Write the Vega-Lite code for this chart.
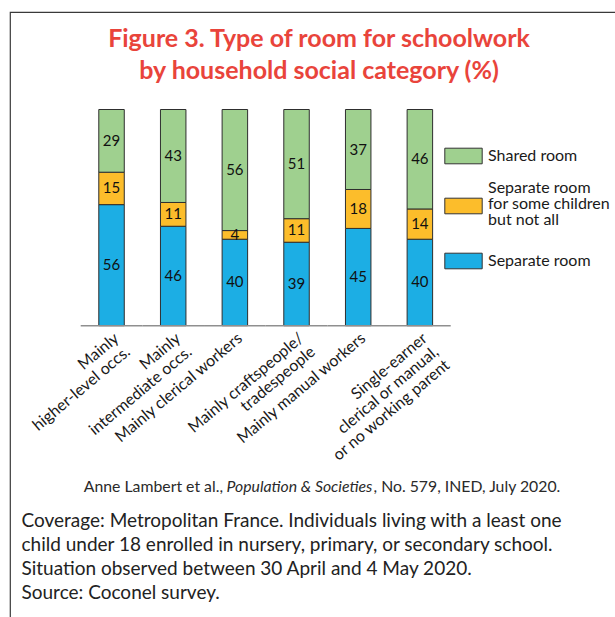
{
  "$schema": "https://vega.github.io/schema/vega-lite/v6.json",
  "width": 611,
  "height": 611,
  "autosize": "none",
  "padding": {"left": 10, "top": 12, "right": -6, "bottom": -6},
  "background": "white",
  "config": {"view": {"stroke": "#3a3a3a", "strokeWidth": 1.2}, "font": "Lato"},
  "title": {
    "text": ["Figure 3. Type of room for schoolwork", "by household social category (%)"],
    "font": "Lato", "fontSize": 25, "fontWeight": "bold", "color": "#e9443b",
    "lineHeight": 32, "anchor": "middle", "frame": "group", "offset": -71.5, "dx": 3.5
  },
  "resolve": {"axis": {"x": "independent"}},
  "data": {"values": [
    {"cat": "Mainly higher-level occs.", "room": "Separate room", "ord": 1, "pct": 56},
    {"cat": "Mainly higher-level occs.", "room": "Separate room for some children but not all", "ord": 2, "pct": 15},
    {"cat": "Mainly higher-level occs.", "room": "Shared room", "ord": 3, "pct": 29},
    {"cat": "Mainly intermediate occs.", "room": "Separate room", "ord": 1, "pct": 46},
    {"cat": "Mainly intermediate occs.", "room": "Separate room for some children but not all", "ord": 2, "pct": 11},
    {"cat": "Mainly intermediate occs.", "room": "Shared room", "ord": 3, "pct": 43},
    {"cat": "Mainly clerical workers", "room": "Separate room", "ord": 1, "pct": 40},
    {"cat": "Mainly clerical workers", "room": "Separate room for some children but not all", "ord": 2, "pct": 4},
    {"cat": "Mainly clerical workers", "room": "Shared room", "ord": 3, "pct": 56},
    {"cat": "Mainly craftspeople/tradespeople", "room": "Separate room", "ord": 1, "pct": 39},
    {"cat": "Mainly craftspeople/tradespeople", "room": "Separate room for some children but not all", "ord": 2, "pct": 11},
    {"cat": "Mainly craftspeople/tradespeople", "room": "Shared room", "ord": 3, "pct": 51},
    {"cat": "Mainly manual workers", "room": "Separate room", "ord": 1, "pct": 45},
    {"cat": "Mainly manual workers", "room": "Separate room for some children but not all", "ord": 2, "pct": 18},
    {"cat": "Mainly manual workers", "room": "Shared room", "ord": 3, "pct": 37},
    {"cat": "Single-earner clerical or manual, or no working parent", "room": "Separate room", "ord": 1, "pct": 40},
    {"cat": "Single-earner clerical or manual, or no working parent", "room": "Separate room for some children but not all", "ord": 2, "pct": 14},
    {"cat": "Single-earner clerical or manual, or no working parent", "room": "Shared room", "ord": 3, "pct": 46}
  ]},
  "layer": [
    {
      "mark": {"type": "bar", "stroke": "#2e2e2e", "strokeWidth": 1},
      "encoding": {
        "x": {
          "field": "cat", "type": "nominal", "sort": null,
          "scale": {"range": [70.7, 440.7], "paddingInner": 0.5867, "paddingOuter": 0.29335},
          "axis": {
            "orient": "bottom", "offset": -297.3, "domain": false, "ticks": false,
            "labelAngle": -40, "labelFont": "Lato", "labelFontSize": 16, "labelColor": "#1a1a1a",
            "labelPadding": 4, "labelLineHeight": 17.5, "labelLimit": 300,
            "labelExpr": "{'Mainly higher-level occs.': ['Mainly', 'higher-level occs.'], 'Mainly intermediate occs.': ['Mainly', 'intermediate occs.'], 'Mainly craftspeople/tradespeople': ['Mainly craftspeople/', 'tradespeople'], 'Single-earner clerical or manual, or no working parent': ['Single-earner', 'clerical or manual,', 'or no working parent']}[datum.label] || datum.label",
            "title": "Anne Lambert et al.,",
            "titleFont": "Lato", "titleFontSize": 15.8, "titleFontWeight": "normal", "titleColor": "#2a2a2a",
            "titleX": 212.5, "titleY": 166, "titleAlign": "right", "titleBaseline": "alphabetic"
          }
        },
        "y": {
          "field": "pct", "type": "quantitative", "stack": "normalize",
          "scale": {"domain": [-1.3751, 1.451], "nice": false, "zero": false},
          "axis": {
            "domain": false, "labels": false, "ticks": false, "grid": false,
            "title": ["Coverage: Metropolitan France. Individuals living with a least one", "child under 18 enrolled in nursery, primary, or secondary school.", "Situation observed between 30 April and 4 May 2020.", "Source: Coconel survey."],
            "titleAngle": 0, "titleAlign": "left", "titleBaseline": "alphabetic",
            "titleX": 11, "titleY": 514.7, "titleFont": "Lato", "titleFontSize": 19,
            "titleFontWeight": "normal", "titleColor": "#222222", "titleLineHeight": 23.8
          }
        },
        "order": {"field": "ord", "type": "quantitative"},
        "color": {
          "field": "room", "type": "nominal",
          "scale": {"domain": ["Shared room", "Separate room for some children but not all", "Separate room"], "range": ["#9fd08f", "#fcbd2b", "#1caee4"]},
          "legend": {
            "title": null, "orient": "none", "legendX": 434, "legendY": 124.5,
            "symbolType": "M-1,-0.417H1V0.417H-1Z", "symbolSize": 1399,
            "symbolStrokeColor": "#333333", "symbolStrokeWidth": 1, "symbolOpacity": 1,
            "labelFont": "Lato", "labelFontSize": 16, "labelColor": "#1a1a1a", "labelOffset": 5,
            "labelLimit": 300, "rowPadding": 13,
            "labelExpr": "datum.label == 'Separate room for some children but not all' ? ['Separate room', 'for some children', 'but not all'] : datum.label",
            "encode": {"labels": {"update": {"lineHeight": {"value": 16}, "dy": {"signal": "datum.label == 'Separate room for some children but not all' ? -18 : 0"}}}}
          }
        }
      }
    },
    {
      "mark": {"type": "text", "font": "Lato", "fontSize": 15, "color": "#111111"},
      "encoding": {
        "x": {
          "field": "cat", "type": "nominal", "sort": null,
          "axis": {
            "orient": "bottom", "offset": -297.3, "domain": false, "ticks": false, "labels": false, "grid": false,
            "title": "Population & Societies",
            "titleFont": "Lato", "titleFontSize": 15.8, "titleFontWeight": "normal", "titleFontStyle": "italic", "titleColor": "#2a2a2a",
            "titleX": 216, "titleY": 166, "titleAlign": "left", "titleBaseline": "alphabetic"
          }
        },
        "y": {"field": "pct", "type": "quantitative", "stack": "normalize", "bandPosition": 0.5},
        "order": {"field": "ord", "type": "quantitative"},
        "detail": {"field": "room"},
        "text": {"field": "pct", "type": "quantitative"}
      }
    },
    {
      "data": {"values": [
        {"cat": "Mainly higher-level occs."},
        {"cat": "Mainly intermediate occs."},
        {"cat": "Mainly clerical workers"},
        {"cat": "Mainly craftspeople/tradespeople"},
        {"cat": "Mainly manual workers"},
        {"cat": "Single-earner clerical or manual, or no working parent"}
      ]},
      "mark": {"type": "rule", "color": "#8f8f8f", "strokeWidth": 1.5},
      "encoding": {
        "x": {
          "field": "cat", "type": "nominal", "sort": null, "bandPosition": -0.7098,
          "axis": {
            "orient": "bottom", "offset": -297.3, "domain": false, "ticks": false, "labels": false, "grid": false,
            "title": ", No. 579, INED, July 2020.",
            "titleFont": "Lato", "titleFontSize": 15.8, "titleFontWeight": "normal", "titleColor": "#2a2a2a",
            "titleX": 363, "titleY": 166, "titleAlign": "left", "titleBaseline": "alphabetic"
          }
        },
        "x2": {"field": "cat", "bandPosition": 1.7098},
        "y": {"datum": 0}
      }
    }
  ]
}
